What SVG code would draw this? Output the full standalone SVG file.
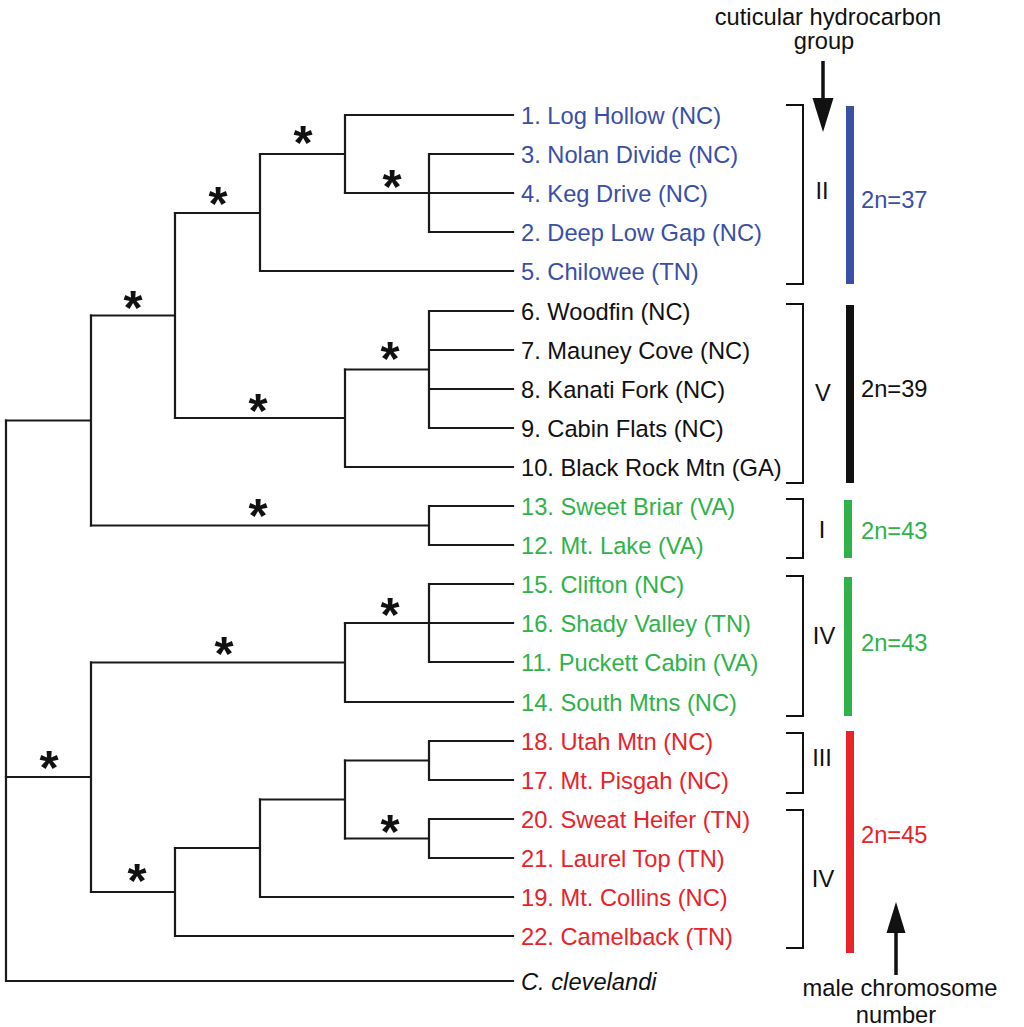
<svg xmlns="http://www.w3.org/2000/svg" width="1024" height="1027" viewBox="0 0 1024 1027">
<style>
text{font-family:"Liberation Sans",Arial,sans-serif;font-size:23.7px}
.blue{fill:#3a4fa6}
.green{fill:#2fb24a}
.red{fill:#e8232a}
.blk{fill:#111}
.ast{font-weight:bold;font-size:49px;fill:#111;text-anchor:middle}
.mid{text-anchor:middle}
.br{fill:none;stroke:#111;stroke-width:2}
.tree{fill:none;stroke:#1a1a1a;stroke-width:2.2;stroke-linecap:square}
</style>
<rect width="1024" height="1027" fill="#fff"/>
<g id="connectors" class="tree">
<path d="M6 420.5V981H513"/>
<path d="M6 420.5H91M91 315.5V525.5"/>
<path d="M91 315.5H175M175 213V418"/>
<path d="M175 213H260M260 154V271H513"/>
<path d="M260 154H345M345 115V193M345 115H513"/>
<path d="M345 193H429M429 154V232M429 154H513M429 193H513M429 232H513"/>
<path d="M175 418H345M345 369.5V467H513"/>
<path d="M345 369.5H429M429 311V428M429 311H513M429 350H513M429 389H513M429 428H513"/>
<path d="M91 525.5H429M429 506V545M429 506H513M429 545H513"/>
<path d="M6 777H91M91 662.5V892"/>
<path d="M91 662.5H345M345 623V702H513"/>
<path d="M345 623H429M429 584V662M429 584H513M429 623H513M429 662H513"/>
<path d="M91 892H175M175 848V936H513"/>
<path d="M175 848H260M260 799.5V897H513"/>
<path d="M260 799.5H345M345 760.5V838.5"/>
<path d="M345 760.5H429M429 741V780M429 741H513M429 780H513"/>
<path d="M345 838.5H429M429 819V858M429 819H513M429 858H513"/>
</g>
<g id="support-asterisks">
<text class="ast" x="303" y="159">*</text>
<text class="ast" x="392" y="203">*</text>
<text class="ast" x="218" y="220">*</text>
<text class="ast" x="133" y="324">*</text>
<text class="ast" x="390" y="375">*</text>
<text class="ast" x="258" y="427">*</text>
<text class="ast" x="258" y="532">*</text>
<text class="ast" x="390" y="631">*</text>
<text class="ast" x="224" y="670">*</text>
<text class="ast" x="49" y="784">*</text>
<text class="ast" x="390" y="848">*</text>
<text class="ast" x="137" y="897">*</text>
</g>
<g id="leaf-1"><text class="blue" x="521" y="123.5">1. Log Hollow (NC)</text></g>
<g id="leaf-3"><text class="blue" x="521" y="162.5">3. Nolan Divide (NC)</text></g>
<g id="leaf-4"><text class="blue" x="521" y="201.5">4. Keg Drive (NC)</text></g>
<g id="leaf-2"><text class="blue" x="521" y="240.5">2. Deep Low Gap (NC)</text></g>
<g id="leaf-5"><text class="blue" x="521" y="279.5">5. Chilowee (TN)</text></g>
<g id="leaf-6"><text class="blk" x="521" y="319.5">6. Woodfin (NC)</text></g>
<g id="leaf-7"><text class="blk" x="521" y="358.5">7. Mauney Cove (NC)</text></g>
<g id="leaf-8"><text class="blk" x="521" y="397.5">8. Kanati Fork (NC)</text></g>
<g id="leaf-9"><text class="blk" x="521" y="436.5">9. Cabin Flats (NC)</text></g>
<g id="leaf-10"><text class="blk" x="521" y="475.5">10. Black Rock Mtn (GA)</text></g>
<g id="leaf-13"><text class="green" x="521" y="514.5">13. Sweet Briar (VA)</text></g>
<g id="leaf-12"><text class="green" x="521" y="553.5">12. Mt. Lake (VA)</text></g>
<g id="leaf-15"><text class="green" x="521" y="592.5">15. Clifton (NC)</text></g>
<g id="leaf-16"><text class="green" x="521" y="631.5">16. Shady Valley (TN)</text></g>
<g id="leaf-11"><text class="green" x="521" y="670.5">11. Puckett Cabin (VA)</text></g>
<g id="leaf-14"><text class="green" x="521" y="710.5">14. South Mtns (NC)</text></g>
<g id="leaf-18"><text class="red" x="521" y="749.5">18. Utah Mtn (NC)</text></g>
<g id="leaf-17"><text class="red" x="521" y="788.5">17. Mt. Pisgah (NC)</text></g>
<g id="leaf-20"><text class="red" x="521" y="827.5">20. Sweat Heifer (TN)</text></g>
<g id="leaf-21"><text class="red" x="521" y="866.5">21. Laurel Top (TN)</text></g>
<g id="leaf-19"><text class="red" x="521" y="905.5">19. Mt. Collins (NC)</text></g>
<g id="leaf-22"><text class="red" x="521" y="944.5">22. Camelback (TN)</text></g>
<g id="outgroup"><text class="blk" x="521" y="989.5" font-style="italic">C. clevelandi</text></g>
<g id="hydrocarbon-groups">
<path class="br" d="M786 105H803V284H786"/>
<text class="blk mid" x="822" y="198.5">II</text>
<path class="br" d="M786 304H803V483H786"/>
<text class="blk mid" x="823" y="400.5">V</text>
<path class="br" d="M786 499H803V558H786"/>
<text class="blk mid" x="822" y="537.5">I</text>
<path class="br" d="M786 576H803V716H786"/>
<text class="blk mid" x="824" y="643.5">IV</text>
<path class="br" d="M786 733H803V793H786"/>
<text class="blk mid" x="822" y="765.5">III</text>
<path class="br" d="M786 810H803V948H786"/>
<text class="blk mid" x="823" y="886.5">IV</text>
</g>
<g id="chromosome-bars">
<rect x="846" y="106" width="8" height="178" fill="#3a4fa6"/>
<text class="blue" x="861" y="207.5">2n=37</text>
<rect x="846" y="305" width="8" height="178" fill="#111"/>
<text class="blk" x="861" y="397">2n=39</text>
<rect x="844" y="500" width="8" height="58" fill="#2fb24a"/>
<text class="green" x="861" y="538.5">2n=43</text>
<rect x="844" y="577" width="8" height="139" fill="#2fb24a"/>
<text class="green" x="861" y="650.5">2n=43</text>
<rect x="846" y="731" width="8" height="222" fill="#e8232a"/>
<text class="red" x="861" y="842.5">2n=45</text>
</g>
<g id="legend-hydrocarbon">
<text class="blk mid" x="828" y="25">cuticular hydrocarbon</text>
<text class="blk mid" x="824" y="49">group</text>
<line x1="823" y1="61" x2="823" y2="100" stroke="#111" stroke-width="3.5"/>
<polygon points="812.5,98 833.5,98 823,132" fill="#111"/>
</g>
<g id="legend-chromosome">
<polygon points="886.5,933 905.5,933 896,902" fill="#111"/>
<line x1="896" y1="931" x2="896" y2="975" stroke="#111" stroke-width="3.5"/>
<text class="blk mid" x="900" y="996" font-size="23">male chromosome</text>
<text class="blk mid" x="896" y="1022.5" font-size="23">number</text>
</g>
</svg>
